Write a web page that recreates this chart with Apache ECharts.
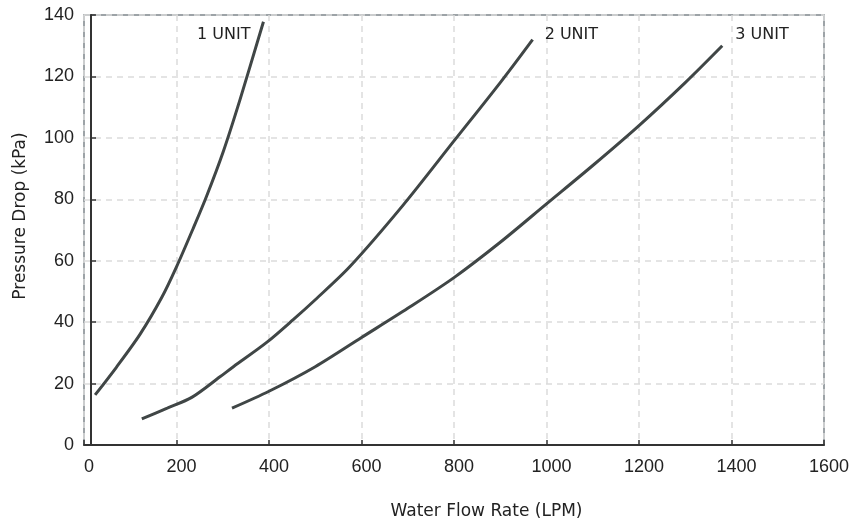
<!DOCTYPE html>
<html>
<head>
<meta charset="UTF-8">
<title>Pressure Drop vs Water Flow Rate</title>
<script src="https://cdn.jsdelivr.net/npm/echarts@6/dist/echarts.min.js"></script>
<style>
html, body { margin: 0; padding: 0; background: #fff; }
#chart { width: 854px; height: 527px; }
</style>
</head>
<body>
<div id="chart"></div>
<script>
// curve data, [LPM, kPa]
const unit1 = [[24, 16.3], [70, 25.3], [121, 36], [168, 48], [200, 58], [236, 70.5], [265, 81], [301, 95.5], [337, 112.3], [388, 137.8]];
const unit2 = [[125, 8.5], [180, 12], [233, 15.5], [294, 22.2], [323, 25.5], [395, 33.4], [453, 40.9], [500, 47.3], [575, 58.1], [690, 78.1], [800, 99], [900, 118], [970, 132]];
const unit3 = [[320, 12], [400, 17.5], [500, 25.5], [600, 35], [700, 44.5], [800, 54.5], [900, 66], [1000, 78.5], [1100, 91], [1200, 104], [1300, 118], [1380, 130]];
const seriesNames = ['1 UNIT', '2 UNIT', '3 UNIT'];

const lineColor = '#404646';
const titleFont = '"DejaVu Sans", sans-serif';
const tickFont = '"Liberation Sans", Arial, sans-serif';

const labelOpts = [
  { align: 'right', offset: [-21, 13] },
  { align: 'left', offset: [4, -5] },
  { align: 'left', offset: [5, -11] }
];

const chart = echarts.init(document.getElementById('chart'));
chart.setOption({
  animation: false,
  grid: {
    left: 84, right: 30, top: 15, bottom: 82,
    show: true, borderColor: '#7e858a', borderWidth: 1.5
  },
  xAxis: {
    type: 'value', min: 0, max: 1600, interval: 200,
    name: 'Water Flow Rate (LPM)', nameLocation: 'middle', nameGap: 58,
    nameTextStyle: { fontFamily: titleFont, fontSize: 17, color: '#222', padding: [0, 0, 0, 65] },
    axisLine: { lineStyle: { color: '#333', width: 2 } },
    axisTick: { show: true, inside: true, length: 5, lineStyle: { color: '#333', width: 1.5 } },
    axisLabel: {
      fontFamily: tickFont, fontSize: 18, color: '#222', margin: 13,
      padding: [0, 0, 0, 10],
      formatter: function (v) { return String(v); }
    },
    splitLine: { show: true, lineStyle: { color: '#dcdcdc', type: [6, 5], width: 1.5 } }
  },
  yAxis: {
    type: 'value', min: 0, max: 140, interval: 20,
    offset: -7,
    name: 'Pressure Drop (kPa)', nameLocation: 'middle', nameGap: 62,
    nameTextStyle: { fontFamily: titleFont, fontSize: 17, color: '#222', padding: [0, 0, 0, 28] },
    axisLine: { show: true, lineStyle: { color: '#333', width: 2 } },
    axisTick: { show: true, inside: true, length: 5, lineStyle: { color: '#333', width: 1.5 } },
    axisLabel: { fontFamily: tickFont, fontSize: 18, color: '#222', margin: 17 },
    splitLine: { show: true, lineStyle: { color: '#dcdcdc', type: [6, 5], width: 1.5 } }
  },
  series: [unit1, unit2, unit3].map(function (d, i) {
    return {
      name: seriesNames[i],
      type: 'line',
      data: d,
      smooth: 0.3,
      showSymbol: false,
      lineStyle: { color: lineColor, width: 3 },
      endLabel: {
        show: true,
        formatter: seriesNames[i],
        align: labelOpts[i].align,
        offset: labelOpts[i].offset,
        fontFamily: titleFont,
        fontSize: 16,
        color: '#222'
      }
    };
  })
});
</script>
</body>
</html>
